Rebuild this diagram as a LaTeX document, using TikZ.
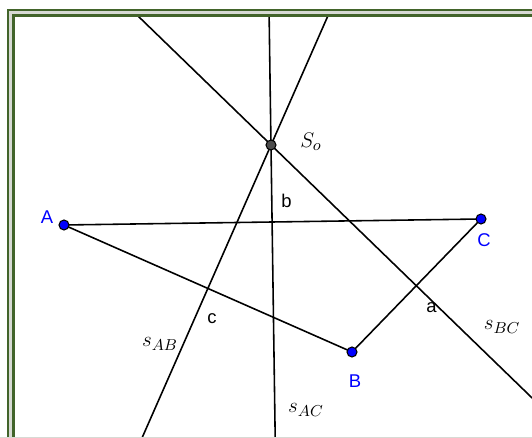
\documentclass[tikz,border=0pt]{standalone}
\usepackage{amsmath,amssymb}
\usepackage{fontspec}
\setsansfont{Liberation Sans}
\usepackage{tikz}
\usetikzlibrary{positioning, calc}

\definecolor{frmgreen}{RGB}{66,100,42}
\definecolor{frmgap}{RGB}{215,218,212}
\definecolor{ptblue}{RGB}{0,0,255}

\begin{document}
\begin{tikzpicture}[x=0.02cm, y=-0.02cm]
        \tikzstyle{pt} = [circle, minimum size=0.2cm, inner sep=0pt, draw=black, line width=0.6pt, fill=ptblue]
        \tikzstyle{ctr} = [circle, minimum size=0.2cm, inner sep=0pt, draw=black, line width=0.6pt, fill=black!70]
        \tikzstyle{ptlbl} = [text=ptblue, font=\sffamily\fontsize{10.5}{12}\selectfont, inner sep=0pt]
        \tikzstyle{seglbl} = [text=black, font=\sffamily\fontsize{10.5}{12}\selectfont, inner sep=0pt]
        \tikzstyle{mlbl} = [text=black, font=\fontsize{13}{15}\selectfont, inner sep=0pt]
        \tikzstyle{ln} = [line width=0.9pt, draw=black]

        \clip (0,0) rectangle (532,438);
        \fill[white] (0,0) rectangle (532,438);

        % Triangle vertices and circumcentre
        \coordinate (A) at (64,225);
        \coordinate (C) at (481,219);
        \coordinate (B) at (352,352);
        \coordinate (So) at (271,145);

        % Ends of the bisectors
        \coordinate (acT) at (268.9,0); \coordinate (acB) at (275.2,438);
        \coordinate (abT) at (334.9,0); \coordinate (abB) at (142,438);
        \coordinate (bcT) at (121.5,0); \coordinate (bcB) at (560,425);

        \begin{scope}
            \clip (15,17) rectangle (532,437);
            \draw [ln] (acT) -- (acB); \draw [ln] (abT) -- (abB); \draw [ln] (bcT) -- (bcB);
            \draw [ln] (A) -- (C); \draw [ln] (A) -- (B); \draw [ln] (B) -- (C);
        \end{scope}

        \node (nA) [pt] at (A) {}; \node (nB) [pt] at (B) {}; \node (nC) [pt] at (C) {};
        \node (nSo) [ctr] at (So) {};

        % Labels
        \node (lA) [ptlbl] at ($(A) + (-17,-8)$) {A};
        \node (lB) [ptlbl] at ($(B) + (3,29)$) {B};
        \node (lC) [ptlbl] at ($(C) + (3,21)$) {C};
        \node (la) [seglbl] at ($(B)!0.5!(C) + (15,22)$) {a};
        \node (lb) [seglbl] at ($(A)!0.5!(C) + (14,-21)$) {b};
        \node (lc) [seglbl] at ($(A)!0.5!(B) + (4,30)$) {c};
        \node (lSo) [mlbl] at ($(So) + (40,-3)$) {$S_o$};
        \node (lab) [mlbl] at (160,344) {$s_{AB}$};
        \node (lac) [mlbl] at (306,410) {$s_{AC}$};
        \node (lbc) [mlbl] at (502,327) {$s_{BC}$};

        % Frame
        \draw [frmgreen, line width=1.5pt] (8,450) |- (545,10);
        \draw [frmgap, line width=1.6pt] (10.5,450) |- (545,12.5);
        \draw [frmgreen, line width=1.7pt] (13.5,450) |- (545,15.5);
        \draw [frmgap, line width=0.8pt] (0,437.5) -- (545,437.5);
    \end{tikzpicture}
\end{document}
